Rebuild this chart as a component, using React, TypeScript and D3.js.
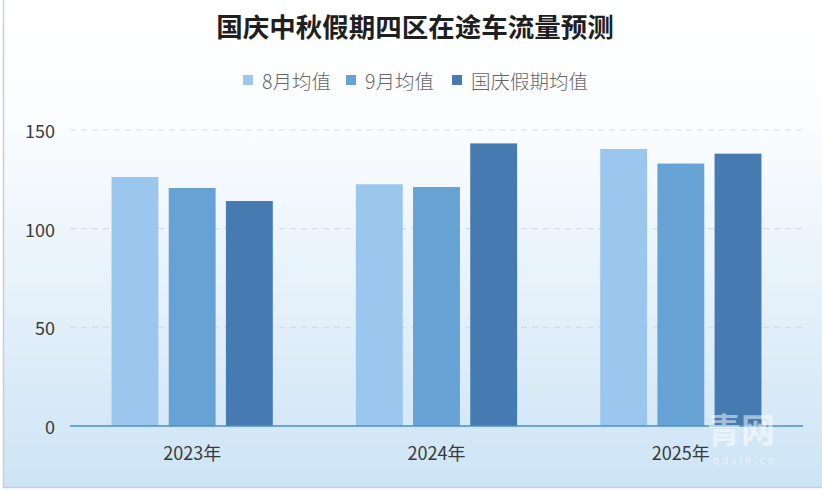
import React from "react";
import * as d3 from "d3";

const categories = ["2023年", "2024年", "2025年"];
const seriesNames = ["8月均值", "9月均值", "国庆假期均值"];
const augValues = [126.2, 122.5, 140.4];
const sepValues = [120.6, 121.1, 133.0];
const holidayValues = [114.0, 143.2, 138.0];
const yTicks = [0, 50, 100, 150];
const colors = ["#9bc7ef", "#66a3d4", "#457bb0"];

const W = 822;
const H = 490;
const FONT = "'Noto Sans CJK SC', 'Noto Sans', sans-serif";

export default function App() {
  const series = [augValues, sepValues, holidayValues];
  const y = d3.scaleLinear().domain([0, 150]).range([426, 130]);
  const x0 = d3.scaleBand<string>().domain(categories).range([70, 803]).paddingInner(0.34).paddingOuter(0.17);
  const x1 = d3.scaleBand<string>().domain(seriesNames).range([0, x0.bandwidth()]).paddingInner(0.18);

  const legendX = [243, 346, 452];

  return (
    <div style={{ position: "absolute", left: 0, top: 0, width: W, height: H }}>
      <svg width={W} height={H} style={{ display: "block" }}>
        <defs>
          <linearGradient id="bg" x1="0" y1="0" x2="0" y2="1">
            <stop offset="0" stopColor="#ffffff" />
            <stop offset="0.25" stopColor="#fbfdfe" />
            <stop offset="0.55" stopColor="#e9f3fb" />
            <stop offset="1" stopColor="#cde4f5" />
          </linearGradient>
        </defs>
        <rect x={0} y={0} width={W} height={H} fill="#ffffff" />
        <rect x={3} y={0} width={W - 3} height={487} fill="url(#bg)" />
        <line x1={3.5} y1={0} x2={3.5} y2={487} stroke="#c9cdd2" strokeWidth={1.5} />
        <line x1={3} y1={487.5} x2={W} y2={487.5} stroke="#c9cdd2" strokeWidth={1.5} />

        <text x={415} y={25} textAnchor="middle" dominantBaseline="central" fontFamily={FONT} fontSize={26.5} fontWeight={600} fill="#1f1f1f">
          国庆中秋假期四区在途车流量预测
        </text>

        {seriesNames.map((s, i) => (
          <g key={s}>
            <rect x={legendX[i]} y={75} width={10} height={10} fill={colors[i]} />
            <text x={legendX[i] + 19} y={80} dominantBaseline="central" fontFamily={FONT} fontSize={19.5} fontWeight={300} fill="#666">
              {s}
            </text>
          </g>
        ))}

        {yTicks.map((t) => (
          <g key={t}>
            {t > 0 && (
              <line x1={70} x2={803} y1={y(t)} y2={y(t)} stroke="#cfdfea" strokeWidth={1.2} strokeDasharray="6,5" />
            )}
            <text x={55} y={y(t)} textAnchor="end" dominantBaseline="central" fontFamily={FONT} fontSize={18} fill="#3a3a3a">
              {t}
            </text>
          </g>
        ))}

        {categories.map((c, ci) => (
          <g key={c} transform={`translate(${x0(c)},0)`}>
            {seriesNames.map((s, si) => (
              <rect
                key={s}
                x={x1(s)}
                y={y(series[si][ci])}
                width={x1.bandwidth()}
                height={y(0) - y(series[si][ci])}
                fill={colors[si]}
              />
            ))}
          </g>
        ))}

        <line x1={70} x2={803} y1={y(0)} y2={y(0)} stroke="#4a8fd0" strokeWidth={1.5} />

        {categories.map((c) => (
          <text key={c} x={(x0(c) as number) + x0.bandwidth() / 2} y={452} textAnchor="middle" dominantBaseline="central" fontFamily={FONT} fontSize={18} fill="#3a3a3a">
            {c}
          </text>
        ))}

        <g opacity={0.5}>
          <text x={741} y={428} textAnchor="middle" dominantBaseline="central" fontFamily={FONT} fontSize={34} fontWeight={700} fill="#ffffff">
            青网
          </text>
          <text x={745} y={459} textAnchor="middle" dominantBaseline="central" fontFamily={FONT} fontSize={10} fill="#ffffff" letterSpacing={3}>
            qdxin.cn
          </text>
        </g>
      </svg>
    </div>
  );
}
